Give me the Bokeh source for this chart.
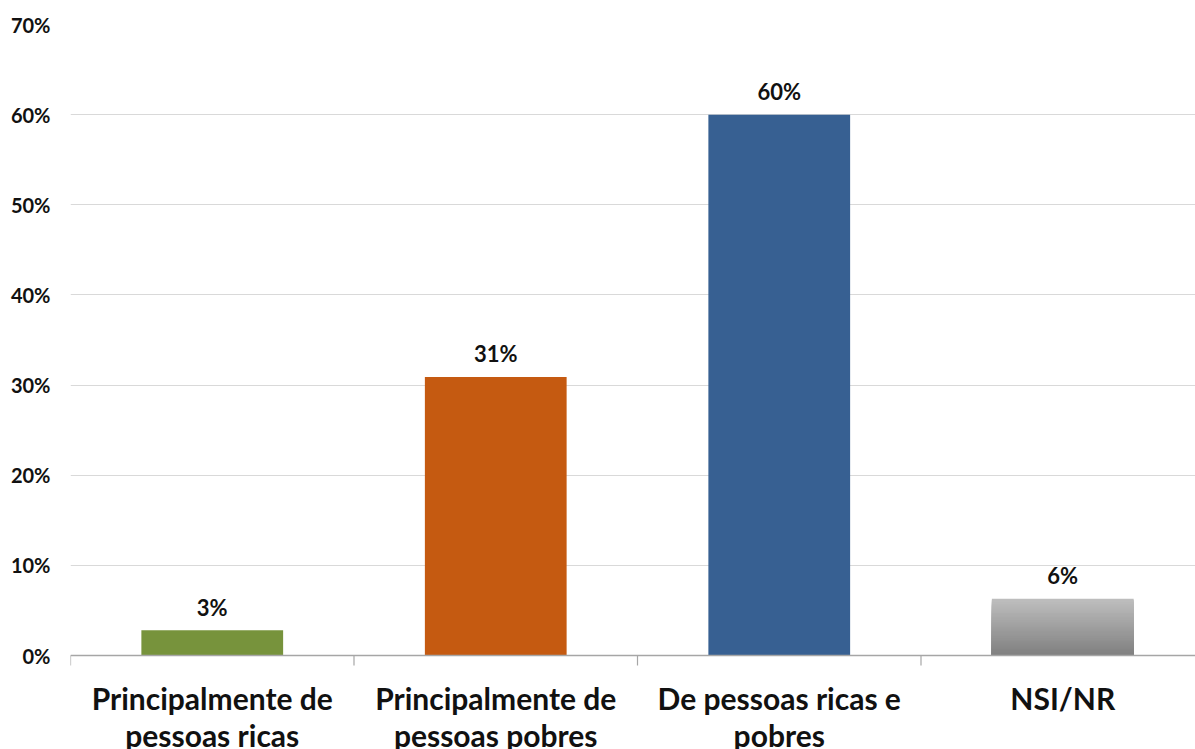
from bokeh.plotting import figure
from bokeh.models import Range1d, FixedTicker, NumeralTickFormatter, Span
from bokeh.core.properties import value
from bokeh.embed import file_html
from bokeh.resources import INLINE

categories = ["Principalmente de\npessoas ricas", "Principalmente de\npessoas pobres",
              "De pessoas ricas e\npobres", "NSI/NR"]
values = [0.028, 0.309, 0.600, 0.063]
colors = ["#77933C", "#C55A11", "#376092", None]
y_ticks = [0.0, 0.1, 0.2, 0.3, 0.4, 0.5, 0.6, 0.7]

FONT = "Lato"
n = len(categories)
centers = [i + 0.5 for i in range(n)]
bounds = list(range(n + 1))
labels = [f"{round(v * 100)}%" for v in values]

W, H = 1195, 749
TOP, LEFT, AXIS_Y, CAT_W = 24, 70, 655, 283.5
y_max = 0.70
px_per_unit = (AXIS_Y - TOP) / y_max
y_min = -(H - AXIS_Y) / px_per_unit

p = figure(width=W, height=H, output_backend="svg", toolbar_location=None,
           x_range=Range1d(0, (W - LEFT) / CAT_W), y_range=Range1d(y_min, y_max),
           min_border_left=LEFT, min_border_right=0, min_border_top=TOP, min_border_bottom=0)
p.outline_line_color = None

# grid
p.ygrid.ticker = FixedTicker(ticks=y_ticks)
p.ygrid.grid_line_color = "#D9D9D9"
p.ygrid.grid_line_width = 1
p.xgrid.grid_line_color = None

# solid bars
for c, v, col in zip(centers, values, colors):
    if col is not None:
        p.vbar(x=[c], top=[v], bottom=0, width=0.5, fill_color=col, line_color=None)

# gradient grey bar (NSI/NR): overlapping slices, light on top, dark at bottom
gi = 3
steps = 60
gv = values[gi]
for k in range(steps):
    t = 1 - (k + 0.5) / steps
    g = int(round(0x7F + (0xBF - 0x7F) * t))
    col = "#%02x%02x%02x" % (g, g, g)
    p.quad(left=[centers[gi] - 0.25], right=[centers[gi] + 0.25],
           bottom=[0], top=[gv * (steps - k) / steps],
           fill_color=col, line_color=None)

# category axis line and boundary ticks
p.add_layout(Span(location=0, dimension="width", line_color="#A6A6A6", line_width=1.5))
tick_len = 10 / px_per_unit
p.segment(x0=bounds, y0=[0] * len(bounds), x1=bounds, y1=[-tick_len] * len(bounds),
          line_color="#A6A6A6", line_width=1.2)

# data labels
p.text(x=centers, y=values, text=labels, text_align="center", text_baseline="alphabetic",
       y_offset=-23, text_font=value(FONT), text_font_style="bold", text_font_size="22px",
       text_color="#111111")

# category labels
p.text(x=centers, y=[0] * n, text=categories, text_align="center", text_baseline="top",
       y_offset=24, text_font=value(FONT), text_font_style="bold", text_font_size="30px",
       text_color="#111111", text_line_height=1.05)

# y axis
p.yaxis.ticker = FixedTicker(ticks=y_ticks)
p.yaxis.formatter = NumeralTickFormatter(format="0%")
p.yaxis.axis_line_color = None
p.yaxis.major_tick_line_color = None
p.yaxis.major_tick_out = 0
p.yaxis.major_tick_in = 0
p.yaxis.minor_tick_line_color = None
p.yaxis.major_label_standoff = 20
p.yaxis.major_label_text_font = FONT
p.yaxis.major_label_text_font_style = "bold"
p.yaxis.major_label_text_font_size = "20px"
p.yaxis.major_label_text_color = "#111111"

p.xaxis.visible = False

open("out.html", "w").write(file_html(p, INLINE))
